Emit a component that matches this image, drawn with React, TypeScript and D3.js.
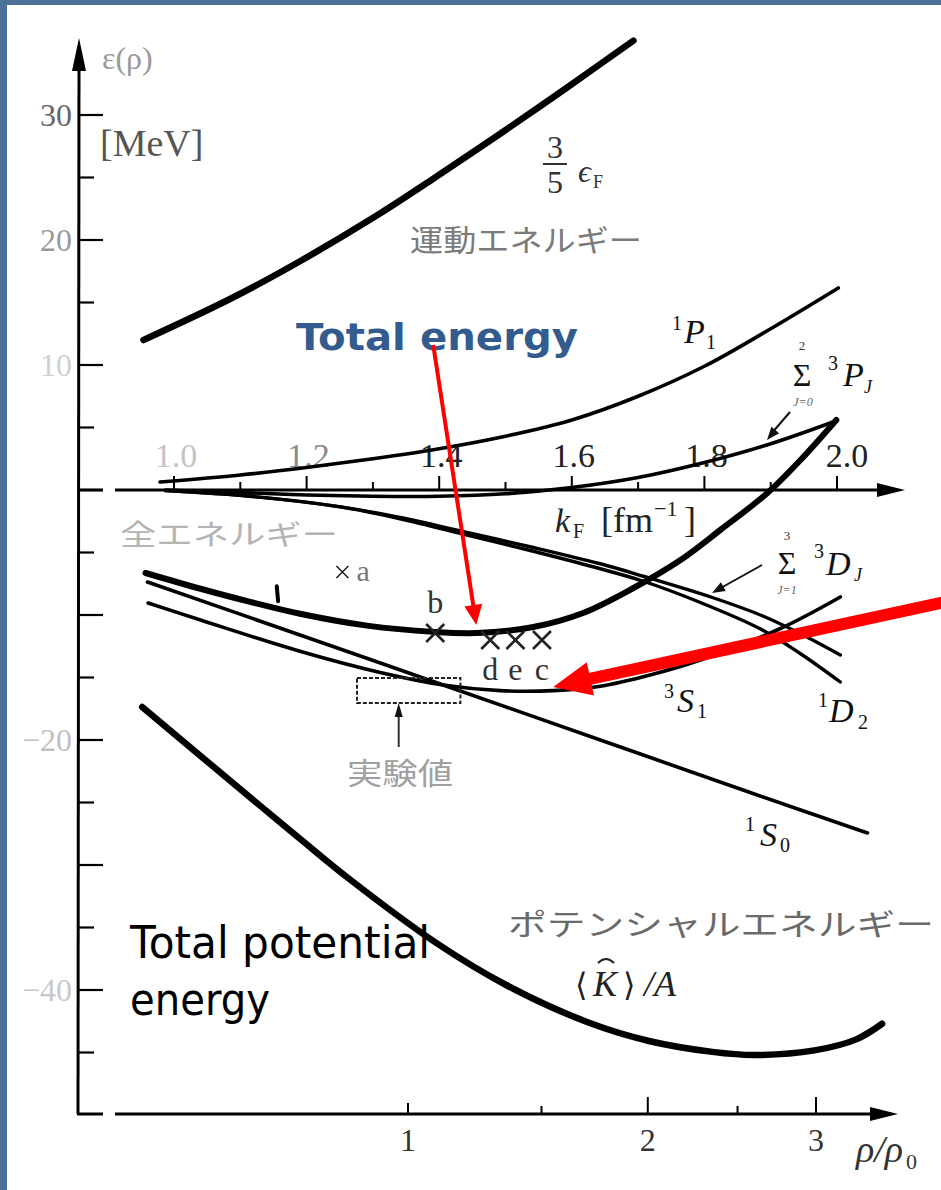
import React from 'react';
import * as d3 from 'd3';

// ---- data (kF in fm^-1, energy in MeV) ----
const kineticKF = [0.954, 1.089, 1.19, 1.307, 1.391, 1.492, 1.593, 1.693];
const kineticE = [12.0, 15.4, 18.3, 22.0, 24.9, 28.5, 32.2, 35.95];

const p1KF = [0.979, 1.1, 1.2, 1.3, 1.4, 1.5, 1.6, 1.7, 1.8, 1.9, 2.002];
const p1E = [0.64, 1.2, 1.8, 2.5, 3.3, 4.3, 5.6, 7.5, 9.9, 12.9, 16.16];

const p3KF = [0.987, 1.1, 1.2, 1.3, 1.4, 1.5, 1.6, 1.7, 1.8, 1.9, 1.994];
const p3E = [0.0, -0.2, -0.4, -0.5, -0.5, -0.3, 0.2, 1.0, 2.2, 3.7, 5.44];

const totalKF = [0.957, 1.04, 1.115, 1.19, 1.291, 1.391, 1.457, 1.542, 1.617, 1.693, 1.764, 1.824, 1.895, 1.945, 1.999];
const totalE = [-6.64, -7.9, -8.95, -9.9, -10.85, -11.35, -11.44, -10.96, -9.84, -7.84, -5.6, -3.2, -0.24, 2.4, 5.6];

const s1KF = [0.96, 1.19, 1.406, 1.643, 1.869, 2.046];
const s1E = [-7.36, -11.6, -15.6, -20.0, -24.2, -27.44];

const s3KF = [0.961, 1.04, 1.19, 1.311, 1.406, 1.492, 1.572, 1.643, 1.718, 1.794, 1.914, 2.005];
const s3E = [-9.04, -10.4, -12.9, -14.6, -15.6, -16.05, -16.05, -15.7, -14.8, -13.6, -11.1, -8.56];

const d3KF = [0.987, 1.115, 1.251, 1.341, 1.442, 1.542, 1.643, 1.708, 1.812, 1.889, 1.945, 2.005];
const d3E = [-0.05, -0.5, -1.35, -2.2, -3.4, -4.6, -5.9, -6.9, -8.6, -10.1, -11.5, -13.2];

const d1KF = [0.987, 1.115, 1.251, 1.341, 1.442, 1.542, 1.643, 1.708, 1.794, 1.884, 1.945, 2.005];
const d1E = [-0.05, -0.5, -1.35, -2.3, -3.6, -4.9, -6.3, -7.3, -9.0, -11.1, -13.1, -15.36];

const potKF = [0.952, 1.115, 1.19, 1.264, 1.396, 1.501, 1.625, 1.718, 1.812, 1.874, 1.966, 2.029, 2.068];
const potE = [-17.36, -24.6, -27.9, -31.1, -36.25, -39.6, -42.6, -44.1, -44.95, -45.2, -44.83, -43.95, -42.7];

const crossNames = ['a', 'b', 'd', 'e', 'c'];
const crossKF = [1.254, 1.394, 1.477, 1.515, 1.555];
const crossE = [-6.56, -11.44, -12.0, -12.0, -12.0];

const expKF = [1.276, 1.432];
const expE = [-15.04, -17.04];

const yTicks = [30, 25, 20, 15, 10, 5, 0, -5, -10, -15, -20, -25, -30, -35, -40, -45];
const yLabels = ['30', '20', '10', '−20', '−40'];
const yLabelVals = [30, 20, 10, -20, -40];
const yLabelFill = ['#666', '#999', '#d0d0d0', '#c0c0c0', '#c8c8c8'];

const kfTicks = [1.0, 1.1, 1.2, 1.3, 1.4, 1.5, 1.6, 1.7, 1.8, 1.9, 2.0];
const kfLabels = ['1.0', '1.2', '1.4', '1.6', '1.8', '2.0'];
const kfLabelVals = [1.0, 1.2, 1.4, 1.6, 1.8, 2.0];
const kfLabelFill = ['#c4c4c4', '#8a8a8a', '#222', '#222', '#222', '#222'];

const rhoTicks = [1, 1.5, 2, 2.5, 3];
const rhoLabels = ['1', '2', '3'];
const rhoLabelVals = [1, 2, 3];

const SERIF = '"Liberation Serif", "DejaVu Serif", serif';
const CJK = '"Noto Sans CJK JP", sans-serif';
const SANS = '"DejaVu Sans", Verdana, sans-serif';

function arrowHead(x1: number, y1: number, x2: number, y2: number, len: number, half: number) {
  const dx = x2 - x1, dy = y2 - y1;
  const L = Math.hypot(dx, dy);
  const ux = dx / L, uy = dy / L;
  const bx = x2 - ux * len, by = y2 - uy * len;
  const px = -uy, py = ux;
  return `M${x2},${y2}L${bx + px * half},${by + py * half}L${bx - px * half},${by - py * half}Z`;
}

export default function App() {
  const W = 941, H = 1190;
  const xK = d3.scaleLinear().domain([1.0, 2.0]).range([174, 837]);
  const yE = d3.scaleLinear().domain([0, 30]).range([490, 115]);
  const xRho = d3.scalePow().exponent(1 / 3).domain([1, 3]).range([408, 816]);

  const line = d3
    .line<[number, number]>()
    .x((d) => xK(d[0]))
    .y((d) => yE(d[1]))
    .curve(d3.curveCatmullRom.alpha(0.5));
  const pts = (k: number[], e: number[]) => k.map((v, i) => [v, e[i]] as [number, number]);

  const curves = [
    { k: kineticKF, e: kineticE, w: 6.5 },
    { k: p1KF, e: p1E, w: 3.6 },
    { k: p3KF, e: p3E, w: 3.6 },
    { k: s1KF, e: s1E, w: 3.6 },
    { k: s3KF, e: s3E, w: 3.6 },
    { k: d3KF, e: d3E, w: 3.4 },
    { k: d1KF, e: d1E, w: 3.4 },
    { k: totalKF, e: totalE, w: 6 },
    { k: potKF, e: potE, w: 6.5 },
  ];

  const axisX = 79;
  const yZero = yE(0);
  const yBottom = 1114;

  // red arrows (annotation) in data coords
  const r1s = [xK(1.391), yE(11.6)];
  const r1e = [xK(1.456), yE(-10.8)];
  const r2s = [xK(2.16), yE(-9.0)];
  const r2e = [xK(1.572), yE(-15.75)];

  const r2dir = Math.hypot(r2e[0] - r2s[0], r2e[1] - r2s[1]);
  const r2bx = r2e[0] - ((r2e[0] - r2s[0]) / r2dir) * 34;
  const r2by = r2e[1] - ((r2e[1] - r2s[1]) / r2dir) * 34;
  const r1dir = Math.hypot(r1e[0] - r1s[0], r1e[1] - r1s[1]);
  const r1bx = r1e[0] - ((r1e[0] - r1s[0]) / r1dir) * 18;
  const r1by = r1e[1] - ((r1e[1] - r1s[1]) / r1dir) * 18;

  const bx0 = xK(expKF[0]), bx1 = xK(expKF[1]);
  const by0 = yE(expE[0]), by1 = yE(expE[1]);
  const bArrowX = (bx0 + bx1) / 2 - 10;

  return (
    <svg
      width={W}
      height={H}
      viewBox={`0 0 ${W} ${H}`}
      style={{ position: 'absolute', left: 0, top: 0, display: 'block' }}
    >
      <rect x={0} y={0} width={W} height={H} fill="#4d7099" />
      <rect x={7} y={5} width={W - 7} height={H - 5} fill="#ffffff" />

      {/* y axis */}
      <line x1={axisX} y1={60} x2={axisX - 1} y2={yBottom} stroke="#000" strokeWidth={3} />
      <path d={`M${axisX},38L${axisX - 7},71L${axisX + 7},71Z`} fill="#000" />
      {yTicks.map((v) => (
        <line
          key={'yt' + v}
          x1={axisX}
          x2={axisX + (v % 10 === 0 ? 24 : 15)}
          y1={yE(v)}
          y2={yE(v)}
          stroke="#000"
          strokeWidth={2.2}
        />
      ))}
      {yLabelVals.map((v, i) => (
        <text
          key={'yl' + v}
          x={72}
          y={yE(v) + 11}
          textAnchor="end"
          fontFamily={SERIF}
          fontSize={32}
          fill={yLabelFill[i]}
        >
          {yLabels[i]}
        </text>
      ))}
      <text x={102} y={69} fontFamily={SERIF} fontSize={32} fill="#999">
        ε(ρ)
      </text>
      <text x={100} y={156} fontFamily={SERIF} fontSize={38} fill="#555">
        [MeV]
      </text>

      {/* kF axis */}
      <line x1={axisX} y1={yZero} x2={103} y2={yZero} stroke="#000" strokeWidth={3} />
      <line x1={115} y1={yZero} x2={885} y2={yZero} stroke="#000" strokeWidth={3} />
      <path d={`M905,${yZero}L877,${yZero - 7}L877,${yZero + 7}Z`} fill="#000" />
      {kfTicks.map((v, i) => (
        <line
          key={'kt' + i}
          x1={xK(v)}
          x2={xK(v)}
          y1={yZero}
          y2={yZero - (i % 2 === 0 ? 14 : 8)}
          stroke="#000"
          strokeWidth={2}
        />
      ))}
      {kfLabelVals.map((v, i) => (
        <text
          key={'kl' + i}
          x={xK(v) + (i === 5 ? 10 : 2)}
          y={467}
          textAnchor="middle"
          fontFamily={SERIF}
          fontSize={34}
          fill={kfLabelFill[i]}
        >
          {kfLabels[i]}
        </text>
      ))}
      <text x={555} y={532} fontFamily={SERIF} fontSize={34} fontStyle="italic" fill="#222">
        k
      </text>
      <text x={573} y={538} fontFamily={SERIF} fontSize={20} fill="#222">
        F
      </text>
      <text x={601} y={532} fontFamily={SERIF} fontSize={36} fill="#222">
        [fm
      </text>
      <text x={654} y={516} fontFamily={SERIF} fontSize={22} fill="#222">
        −1
      </text>
      <text x={684} y={532} fontFamily={SERIF} fontSize={36} fill="#222">
        ]
      </text>

      {/* bottom rho axis */}
      <line x1={axisX - 2} y1={yBottom} x2={103} y2={yBottom} stroke="#000" strokeWidth={3} />
      <line x1={115} y1={yBottom} x2={878} y2={yBottom} stroke="#000" strokeWidth={3} />
      <path d={`M898,${yBottom}L870,${yBottom - 7}L870,${yBottom + 7}Z`} fill="#000" />
      {rhoTicks.map((v, i) => (
        <line
          key={'rt' + i}
          x1={xRho(v)}
          x2={xRho(v)}
          y1={yBottom}
          y2={yBottom - (i % 2 === 0 ? (i === 0 ? 11 : 17) : 8)}
          stroke="#000"
          strokeWidth={2}
        />
      ))}
      {rhoLabelVals.map((v, i) => (
        <text
          key={'rl' + i}
          x={xRho(v)}
          y={1151}
          textAnchor="middle"
          fontFamily={SERIF}
          fontSize={32}
          fill="#333"
        >
          {rhoLabels[i]}
        </text>
      ))}
      <text x={856} y={1162} fontFamily={SERIF} fontSize={38} fontStyle="italic" fill="#333">
        ρ/ρ
      </text>
      <text x={906} y={1169} fontFamily={SERIF} fontSize={22} fill="#333">
        0
      </text>

      {/* curves */}
      {curves.map((c, i) => (
        <path
          key={'c' + i}
          d={line(pts(c.k, c.e)) || ''}
          fill="none"
          stroke="#000"
          strokeWidth={c.w}
          strokeLinecap="round"
          strokeLinejoin="round"
        />
      ))}
      {/* small mark on total energy curve */}
      <path d={`M${xK(1.155)},${yE(-7.7)}L${xK(1.157)},${yE(-8.9)}`} stroke="#000" strokeWidth={4} strokeLinecap="round" />

      {/* crosses and labels */}
      {crossKF.map((k, i) => {
        const cx = xK(k), cy = yE(crossE[i]);
        const s = i === 0 ? 6 : 9;
        return (
          <path
            key={'x' + i}
            d={`M${cx - s},${cy - s}L${cx + s},${cy + s}M${cx - s},${cy + s}L${cx + s},${cy - s}`}
            stroke="#222"
            strokeWidth={i === 0 ? 1.6 : 2.6}
          />
        );
      })}
      <text x={xK(crossKF[0]) + 14} y={yE(crossE[0]) + 9} fontFamily={SERIF} fontSize={30} fill="#777">
        {crossNames[0]}
      </text>
      <text x={xK(crossKF[1])} y={613} textAnchor="middle" fontFamily={SERIF} fontSize={32} fill="#333">
        {crossNames[1]}
      </text>
      {[2, 3, 4].map((i) => (
        <text key={'cl' + i} x={xK(crossKF[i])} y={680} textAnchor="middle" fontFamily={SERIF} fontSize={32} fill="#333">
          {crossNames[i]}
        </text>
      ))}

      {/* experimental box */}
      <rect
        x={bx0}
        y={by0}
        width={bx1 - bx0}
        height={by1 - by0}
        fill="none"
        stroke="#222"
        strokeWidth={2}
        strokeDasharray="4,2"
      />
      <line x1={bArrowX} y1={747} x2={bArrowX} y2={by1 + 10} stroke="#333" strokeWidth={2} />
      <path d={`M${bArrowX},${by1}L${bArrowX - 4},${by1 + 14}L${bArrowX + 4},${by1 + 14}Z`} fill="#111" />
      <text x={347} y={784} fontFamily={CJK} fontSize={30} fill="#a0a0a0" textLength={106} lengthAdjust="spacingAndGlyphs">
        実験値
      </text>

      {/* kinetic labels */}
      <text x={555} y={158} textAnchor="middle" fontFamily={SERIF} fontSize={32} fill="#333">
        3
      </text>
      <line x1={543} x2={567} y1={164} y2={164} stroke="#333" strokeWidth={2} />
      <text x={555} y={193} textAnchor="middle" fontFamily={SERIF} fontSize={32} fill="#333">
        5
      </text>
      <text x={578} y={182} fontFamily={SERIF} fontSize={32} fontStyle="italic" fill="#333">
        ϵ
      </text>
      <text x={593} y={188} fontFamily={SERIF} fontSize={18} fill="#333">
        F
      </text>
      <text x={410} y={251} fontFamily={CJK} fontSize={30} fill="#7a7a7a" textLength={232} lengthAdjust="spacingAndGlyphs">
        運動エネルギー
      </text>

      {/* 1P1 */}
      <text x={672} y={330} fontFamily={SERIF} fontSize={20} fill="#111">1</text>
      <text x={684} y={343} fontFamily={SERIF} fontSize={34} fontStyle="italic" fill="#111">P</text>
      <text x={706} y={349} fontFamily={SERIF} fontSize={20} fill="#111">1</text>

      {/* sum 3PJ */}
      <text x={802} y={350} textAnchor="middle" fontFamily={SERIF} fontSize={13} fill="#333">2</text>
      <text x={802} y={386} textAnchor="middle" fontFamily={SERIF} fontSize={32} fill="#111">Σ</text>
      <text x={803} y={406} textAnchor="middle" fontFamily={SERIF} fontSize={12} fontStyle="italic" fill="#666">J=0</text>
      <text x={828} y={370} fontFamily={SERIF} fontSize={20} fill="#111">3</text>
      <text x={843} y={386} fontFamily={SERIF} fontSize={34} fontStyle="italic" fill="#111">P</text>
      <text x={864} y={393} fontFamily={SERIF} fontSize={18} fontStyle="italic" fill="#111">J</text>
      <line x1={790} y1={412} x2={771} y2={434} stroke="#111" strokeWidth={2} />
      <path d={arrowHead(790, 412, 767, 440, 13, 5)} fill="#111" />

      {/* sum 3DJ */}
      <text x={787} y={540} textAnchor="middle" fontFamily={SERIF} fontSize={13} fill="#333">3</text>
      <text x={787} y={574} textAnchor="middle" fontFamily={SERIF} fontSize={32} fill="#111">Σ</text>
      <text x={787} y={594} textAnchor="middle" fontFamily={SERIF} fontSize={12} fontStyle="italic" fill="#666">J=1</text>
      <text x={814} y={558} fontFamily={SERIF} fontSize={20} fill="#111">3</text>
      <text x={826} y={575} fontFamily={SERIF} fontSize={34} fontStyle="italic" fill="#111">D</text>
      <text x={854} y={581} fontFamily={SERIF} fontSize={18} fontStyle="italic" fill="#111">J</text>
      <line x1={762} y1={565} x2={719} y2={589} stroke="#111" strokeWidth={2} />
      <path d={arrowHead(762, 565, 712, 593, 13, 5)} fill="#111" />

      {/* 3S1 */}
      <text x={664} y={698} fontFamily={SERIF} fontSize={20} fill="#111">3</text>
      <text x={677} y={712} fontFamily={SERIF} fontSize={34} fontStyle="italic" fill="#111">S</text>
      <text x={697} y={718} fontFamily={SERIF} fontSize={20} fill="#111">1</text>

      {/* 1D2 */}
      <text x={818} y={707} fontFamily={SERIF} fontSize={20} fill="#111">1</text>
      <text x={829} y={722} fontFamily={SERIF} fontSize={34} fontStyle="italic" fill="#111">D</text>
      <text x={858} y={729} fontFamily={SERIF} fontSize={20} fill="#111">2</text>

      {/* 1S0 */}
      <text x={745} y={831} fontFamily={SERIF} fontSize={20} fill="#111">1</text>
      <text x={760} y={846} fontFamily={SERIF} fontSize={34} fontStyle="italic" fill="#111">S</text>
      <text x={780} y={852} fontFamily={SERIF} fontSize={20} fill="#111">0</text>

      {/* faint total energy JP label */}
      <text x={120} y={545} fontFamily={CJK} fontSize={28} fill="#b4b4b4" textLength={218} lengthAdjust="spacingAndGlyphs">
        全エネルギー
      </text>

      {/* potential labels */}
      <text x={508} y={935} fontFamily={CJK} fontSize={30} fill="#6a6a6a" textLength={426} lengthAdjust="spacingAndGlyphs">
        ポテンシャルエネルギー
      </text>
      <text x={575} y={996} fontFamily='"DejaVu Serif", serif' fontSize={32} fill="#222">⟨</text>
      <text x={593} y={996} fontFamily={SERIF} fontSize={36} fontStyle="italic" fill="#222">K</text>
      <path d="M598,963 Q606,955 614,963" fill="none" stroke="#222" strokeWidth={2} />
      <text x={623} y={996} fontFamily='"DejaVu Serif", serif' fontSize={32} fill="#222">⟩</text>
      <text x={644} y={996} fontFamily={SERIF} fontSize={36} fontStyle="italic" fill="#222">/A</text>

      {/* overlay annotations */}
      <text x={130} y={958} fontFamily={SANS} fontSize={44} fill="#000" textLength={300} lengthAdjust="spacingAndGlyphs">
        Total potential
      </text>
      <text x={130} y={1015} fontFamily={SANS} fontSize={44} fill="#000" textLength={140} lengthAdjust="spacingAndGlyphs">
        energy
      </text>
      <text x={296} y={350} fontFamily={SANS} fontSize={38} fontWeight="bold" fill="#335b8e" textLength={282} lengthAdjust="spacingAndGlyphs">
        Total energy
      </text>

      <line x1={r1s[0]} y1={r1s[1]} x2={r1bx} y2={r1by} stroke="#ff0000" strokeWidth={4} />
      <path d={arrowHead(r1s[0], r1s[1], r1e[0], r1e[1], 20, 9)} fill="#ff0000" />
      <line x1={r2s[0]} y1={r2s[1]} x2={r2bx} y2={r2by} stroke="#ff0000" strokeWidth={12} />
      <path d={arrowHead(r2s[0], r2s[1], r2e[0], r2e[1], 38, 17)} fill="#ff0000" />
    </svg>
  );
}
